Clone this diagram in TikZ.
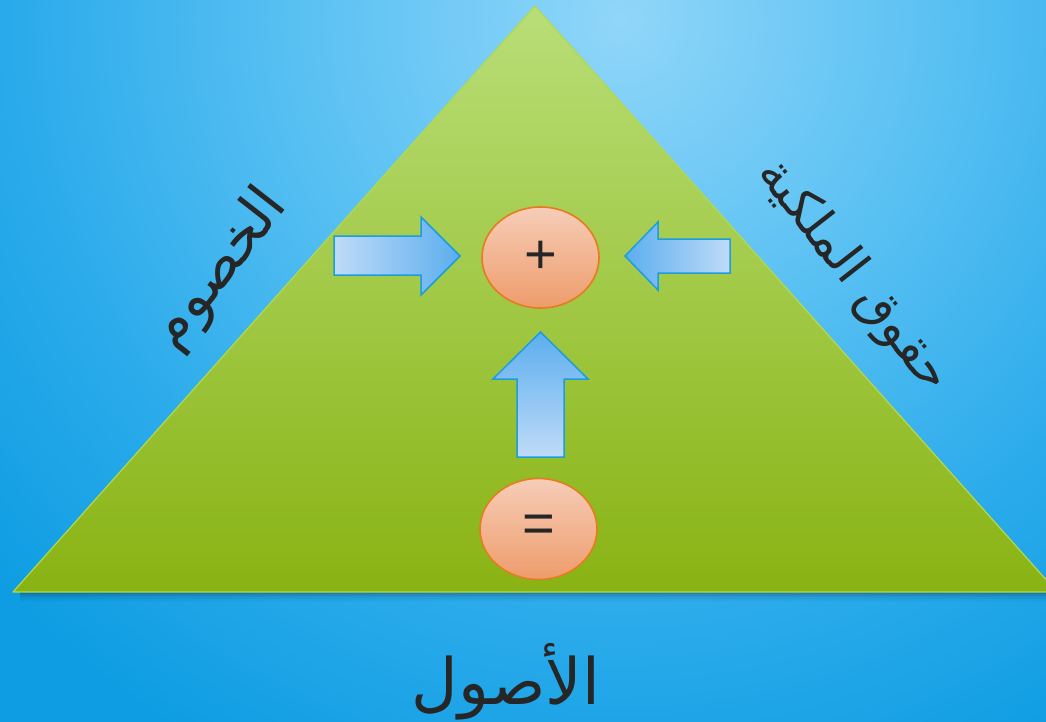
\documentclass[tikz,border=0pt]{standalone}
\usepackage{fontspec}
\setmainfont{Liberation Sans}
\newfontfamily\arabicfont[Script=Arabic]{DejaVu Sans}
\TeXXeTstate=1
\usetikzlibrary{shapes.geometric}
\definecolor{bgA}{HTML}{90D6F9}
\definecolor{bgM}{HTML}{5DC2F3}
\definecolor{bgN}{HTML}{2BABEB}
\definecolor{bgB}{HTML}{0E9DE2}
\definecolor{triTop}{HTML}{B9DE78}
\definecolor{triBot}{HTML}{89B313}
\definecolor{triEdge}{HTML}{B2DA4A}
\definecolor{circTop}{HTML}{F6CDB8}
\definecolor{circBot}{HTML}{EE9C6B}
\definecolor{circEdge}{HTML}{E67C1E}
\definecolor{arLight}{HTML}{BFDBF8}
\definecolor{arDark}{HTML}{5CAEEE}
\definecolor{arEdge}{HTML}{1C9DDF}
\definecolor{txt}{HTML}{262626}
\pgfdeclareradialshading{bgshade}{\pgfpoint{0bp}{0bp}}{color(0bp)=(bgA); color(7.5bp)=(bgM); color(15bp)=(bgN); color(21bp)=(bgB); color(50bp)=(bgB)}
\tikzset{
  circ/.style={ellipse, draw=circEdge, line width=1.6pt, top color=circTop, bottom color=circBot,
    minimum width=117pt, minimum height=101pt, inner sep=0pt, text=txt, font=\fontsize{56}{56}\selectfont},
  blockarrow/.style={draw=arEdge, line width=1.5pt, line join=miter},
  label/.style={text=txt, inner sep=0pt, font=\arabicfont\fontsize{57}{62}\selectfont}
}
\begin{document}
\begin{tikzpicture}[x=1pt,y=-1pt]
\useasboundingbox (0,0) rectangle (1046,721);
% background
\begin{scope}
\clip (0,0) rectangle (1046,721);
\fill[bgB] (0,0) rectangle (1046,721);
\shade[shading=bgshade] (620,20) circle (1000);
% shadow under triangle
\foreach \i/\o in {1/0.30,2/0.25,3/0.20,4/0.16,5/0.12,6/0.09,7/0.07,8/0.05,9/0.03,10/0.02}{
  \fill[black, opacity=\o] (20,591+\i) rectangle (1046,592+\i);
}
% triangle
\coordinate (apex) at (535,6);
\coordinate (bl) at (13,592);
\coordinate (br) at (1057,592);
\shade[top color=triTop, bottom color=triBot] (apex) -- (bl) -- (br) -- cycle;
\draw[triEdge, line width=1.2pt, line join=round] (br) -- (apex) -- (bl) -- (br);
\end{scope}
% circles
\node[circ] (plus) at (540.5,257.5) {+};
\node[circ] (eq) at (538.5,529) {=};
% arrows
\shade[blockarrow, left color=arLight, right color=arDark]
  (334,236) -- (421,236) -- (421,217) -- (460,256) -- (421,295) -- (421,275) -- (334,275) -- cycle;
\shade[blockarrow, left color=arDark, right color=arLight]
  (730,239) -- (658,239) -- (658,222) -- (625,256) -- (658,290) -- (658,273) -- (730,273) -- cycle;
\shade[blockarrow, top color=arDark, bottom color=arLight]
  (517,457) -- (517,379) -- (493,379) -- (540.5,332) -- (588,379) -- (564,379) -- (564,457) -- cycle;
% labels
\node[label, rotate=52] (liab) at (220,270) {\beginR الخصوم\endR};
\node[label, rotate=-52, font=\arabicfont\fontsize{50}{56}\selectfont] (eqty) at (853,276) {\beginR حقوق الملكية\endR};
\node[label, font=\arabicfont\fontsize{64}{70}\selectfont] (assets) at (506,682) {\beginR الأصول\endR};
\end{tikzpicture}
\end{document}
